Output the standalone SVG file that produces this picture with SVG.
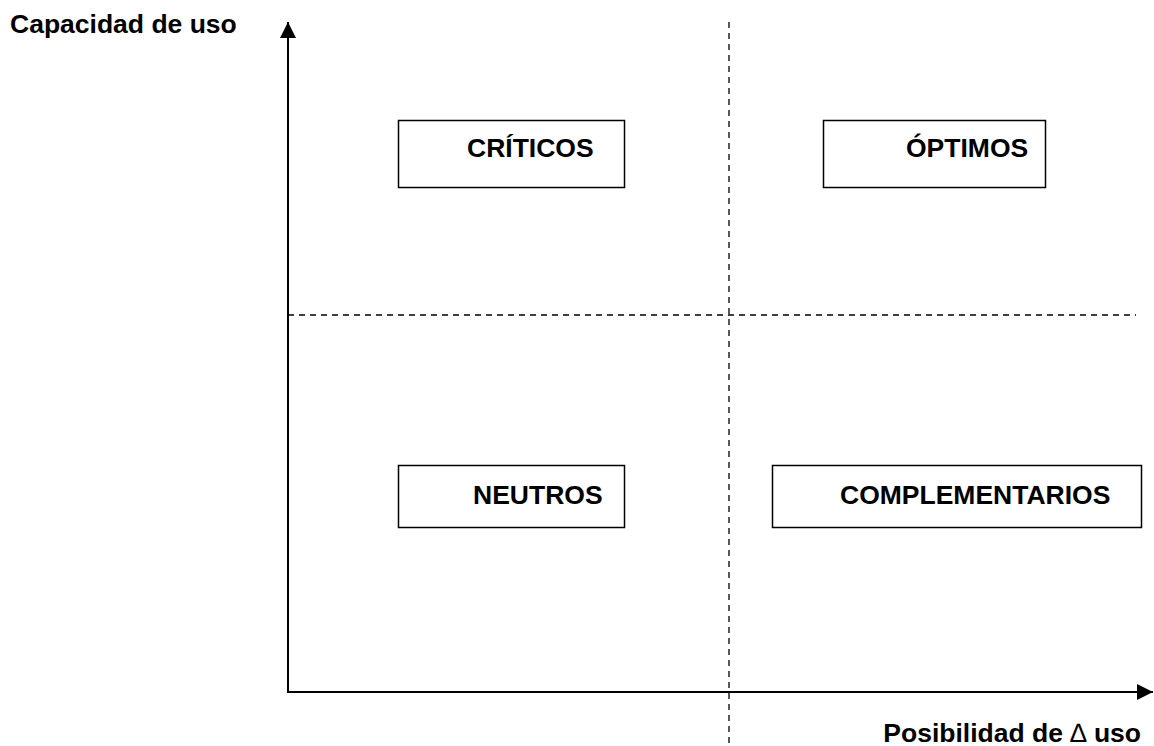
<svg xmlns="http://www.w3.org/2000/svg" width="1154" height="746" viewBox="0 0 1154 746">
<style>
.t{font-family:"Liberation Sans",Arial,sans-serif;font-weight:bold;font-size:26.5px;fill:#000}
.box{fill:#fff;stroke:#000;stroke-width:1.5}
.ax{stroke:#000;stroke-width:2;fill:none}
.dash{stroke:#000;stroke-width:1.3;stroke-dasharray:6 5;fill:none}
</style>
<defs>
<marker id="ah" viewBox="0 0 16 16" refX="16" refY="8" markerWidth="16" markerHeight="16" markerUnits="userSpaceOnUse" orient="auto">
<path d="M0,0 L16,8 L0,16 Z" fill="#000"/>
</marker>
</defs>
<rect width="1154" height="746" fill="#fff"/>
<g id="connectors">
<line class="dash" x1="729" y1="22" x2="729" y2="746"/>
<line class="dash" x1="288" y1="315" x2="1136" y2="315"/>
<line class="ax" x1="288" y1="693" x2="288" y2="22" marker-end="url(#ah)"/>
<line class="ax" x1="287" y1="692" x2="1153" y2="692" marker-end="url(#ah)"/>
</g>
<g id="label-y"><text class="t" x="10" y="33">Capacidad de uso</text></g>
<g id="label-x"><text class="t" x="1141" y="742" text-anchor="end">Posibilidad de <tspan font-weight="normal">∆</tspan> uso</text></g>
<g id="criticos">
<rect class="box" x="398.5" y="120.5" width="226" height="67"/>
<text class="t" x="467" y="157">CRÍTICOS</text>
</g>
<g id="optimos">
<rect class="box" x="823.5" y="120.5" width="222" height="67"/>
<text class="t" x="906" y="157">ÓPTIMOS</text>
</g>
<g id="neutros">
<rect class="box" x="398.5" y="465.5" width="226" height="62"/>
<text class="t" x="473" y="504">NEUTROS</text>
</g>
<g id="complementarios">
<rect class="box" x="772.5" y="465.5" width="369" height="62"/>
<text class="t" x="840" y="504">COMPLEMENTARIOS</text>
</g>
</svg>
